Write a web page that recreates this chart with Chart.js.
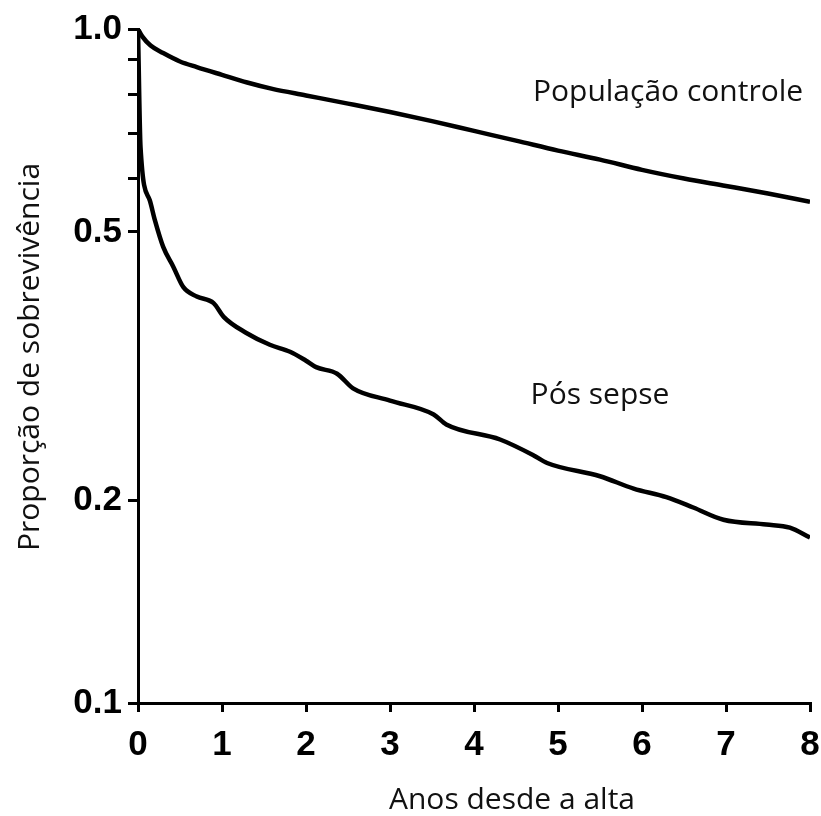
<!DOCTYPE html>
<html>
<head>
<meta charset="utf-8">
<script src="https://cdn.jsdelivr.net/npm/chart.js@4/dist/chart.umd.min.js"></script>
<style>
  html, body { margin: 0; padding: 0; background: #fff; }
  #chart { display: block; }
</style>
</head>
<body>
<canvas id="chart" width="821" height="816"></canvas>
<script>
// anos desde a alta / proporção de sobrevivência
const controleAnos = [0, 0.05, 0.15, 0.3, 0.5, 0.7, 1.0, 1.3, 1.6, 2.0, 2.5, 3.0, 3.5, 4.0, 4.5, 5.0, 5.5, 6.0, 6.5, 7.0, 7.5, 8.0];
const controleSobrevida = [1.0, 0.975, 0.945, 0.921, 0.895, 0.878, 0.855, 0.833, 0.815, 0.797, 0.775, 0.753, 0.73, 0.706, 0.683, 0.66, 0.64, 0.618, 0.6, 0.585, 0.57, 0.554];

const sepseAnos = [0, 0.03, 0.14, 0.2, 0.3, 0.42, 0.54, 0.7, 0.9, 1.02, 1.29, 1.57, 1.81, 2.0, 2.12, 2.37, 2.56, 3.0, 3.52, 3.67, 4.31, 4.71, 4.87, 5.5, 5.9, 6.29, 6.61, 6.97, 7.48, 7.76, 8.0];
const sepseSobrevida = [1.0, 0.668, 0.557, 0.521, 0.475, 0.444, 0.414, 0.401, 0.392, 0.374, 0.354, 0.34, 0.332, 0.322, 0.315, 0.308, 0.293, 0.281, 0.268, 0.259, 0.246, 0.233, 0.227, 0.217, 0.208, 0.202, 0.195, 0.187, 0.184, 0.182, 0.176];

const yTicks = [0.1, 0.2, 0.5, 0.6, 0.7, 0.8, 0.9, 1.0];
const yTickLabels = [0.1, 0.2, 0.5, 1.0];

const curveNames = ["População controle", "Pós sepse"];
const curveLabelX = [6.31, 5.5];
const curveLabelY = [0.806, 0.286];

const xTitle = "Anos desde a alta";
const yTitle = "Proporção de sobrevivência";

const toPoints = (xs, ys) => xs.map((x, i) => ({ x, y: ys[i] }));

const tickFont = { family: "Liberation Sans", size: 35, weight: "bold" };
const textFont = "30px 'Open Sans'";

const labelsPlugin = {
  id: "curveLabels",
  afterDraw(chart) {
    const { ctx, scales } = chart;
    ctx.save();
    ctx.fillStyle = "#111";
    ctx.font = textFont;
    ctx.textAlign = "center";
    ctx.textBaseline = "middle";
    curveNames.forEach((name, i) => {
      ctx.fillText(
        name,
        scales.x.getPixelForValue(curveLabelX[i]),
        scales.y.getPixelForValue(curveLabelY[i])
      );
    });
    ctx.fillText(xTitle, 512, 800);
    ctx.translate(30, 357);
    ctx.rotate(-Math.PI / 2);
    ctx.fillText(yTitle, 0, 0);
    ctx.restore();
  },
};

new Chart(document.getElementById("chart"), {
  type: "line",
  data: {
    datasets: [
      {
        label: curveNames[0],
        data: toPoints(controleAnos, controleSobrevida),
        borderColor: "#000",
        borderWidth: 4.5,
        pointRadius: 0,
        cubicInterpolationMode: "monotone",
      },
      {
        label: curveNames[1],
        data: toPoints(sepseAnos, sepseSobrevida),
        borderColor: "#000",
        borderWidth: 4.5,
        pointRadius: 0,
        cubicInterpolationMode: "monotone",
      },
    ],
  },
  options: {
    responsive: false,
    animation: false,
    layout: { padding: { top: 29, right: 11, left: 0, bottom: 0 } },
    plugins: {
      legend: { display: false },
      tooltip: { enabled: false },
    },
    scales: {
      x: {
        type: "linear",
        min: 0,
        max: 8,
        afterFit: (scale) => {
          scale.height = 113;
          scale.paddingLeft = 0;
          scale.paddingRight = 0;
        },
        ticks: {
          stepSize: 1,
          color: "#000",
          font: tickFont,
          padding: 12,
        },
        grid: {
          drawOnChartArea: false,
          drawTicks: true,
          tickLength: 9,
          color: "#000",
          lineWidth: 3,
        },
        border: { display: true, color: "#000", width: 3 },
      },
      y: {
        type: "logarithmic",
        min: 0.1,
        max: 1.0,
        afterFit: (scale) => {
          scale.width = 138;
        },
        afterBuildTicks: (scale) => {
          scale.ticks = yTicks.map((value) => ({ value }));
        },
        ticks: {
          color: "#000",
          font: tickFont,
          padding: 6,
          autoSkip: false,
          callback: (value) =>
            yTickLabels.includes(value) ? value.toFixed(1) : "",
        },
        grid: {
          drawOnChartArea: false,
          drawTicks: true,
          tickLength: 10,
          color: "#000",
          lineWidth: 3,
        },
        border: { display: true, color: "#000", width: 3 },
      },
    },
  },
  plugins: [labelsPlugin],
});
</script>
</body>
</html>
